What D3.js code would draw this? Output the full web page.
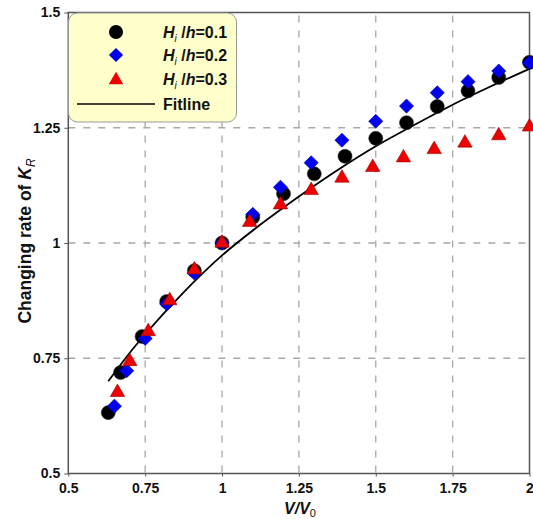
<!DOCTYPE html>
<html><head><meta charset="utf-8">
<script src="https://cdn.jsdelivr.net/npm/d3@7/dist/d3.min.js"></script>
<style>body{margin:0;background:#fff}text{font-family:"Liberation Sans",Arial,sans-serif;font-weight:bold}</style>
</head><body><svg id="c" width="533" height="519"></svg>
<script>
const xs1 = [0.63,0.67,0.74,0.82,0.91,1.0,1.1,1.2,1.3,1.4,1.5,1.6,1.7,1.8,1.9,2.0];
const ys1 = [0.632,0.719,0.797,0.873,0.940,1.0,1.056,1.107,1.150,1.188,1.227,1.261,1.296,1.330,1.359,1.392];
const xs2 = [0.65,0.69,0.75,0.82,0.91,1.0,1.1,1.19,1.29,1.39,1.5,1.6,1.7,1.8,1.9,2.0];
const ys2 = [0.646,0.723,0.793,0.868,0.935,1.0,1.062,1.121,1.174,1.223,1.264,1.297,1.326,1.350,1.373,1.391];
const xs3 = [0.66,0.70,0.76,0.83,0.91,1.0,1.09,1.19,1.29,1.39,1.49,1.59,1.69,1.79,1.9,2.0];
const ys3 = [0.676,0.743,0.808,0.875,0.942,1.0,1.045,1.083,1.114,1.141,1.164,1.185,1.203,1.217,1.233,1.252];
const fitX = [0.63,0.7,0.75,0.875,1.0,1.125,1.25,1.375,1.5,1.625,1.75,1.875,2.0];
const fitY = [0.700,0.762,0.802,0.893,0.973,1.040,1.101,1.158,1.210,1.256,1.300,1.340,1.378];
const xTicks = [0.5,0.75,1,1.25,1.5,1.75,2];
const yTicks = [0.5,0.75,1,1.25,1.5];
const xTickLabels = ["0.5","0.75","1","1.25","1.5","1.75","2"];
const yTickLabels = ["0.5","0.75","1","1.25","1.5"];
const legendLabels = ["0.1","0.2","0.3"];

const svg = d3.select("#c");
const L=68.3,R=529.5,T=12.5,B=473.5;
const x = d3.scaleLinear().domain([0.5,2]).range([L,R]);
const y = d3.scaleLinear().domain([0.5,1.5]).range([B,T]);

// grid
const g = svg.append("g");
g.selectAll("line.gx").data(xTicks.filter(v=>v>0.5&&v<2)).enter().append("line")
  .attr("x1",d=>x(d)).attr("x2",d=>x(d)).attr("y1",T+3).attr("y2",B)
  .attr("stroke","#a8a8a8").attr("stroke-width",1.3).attr("stroke-dasharray","7,8");
g.selectAll("line.gy").data(yTicks.filter(v=>v>0.5&&v<1.5)).enter().append("line")
  .attr("y1",d=>y(d)).attr("y2",d=>y(d)).attr("x1",L).attr("x2",R)
  .attr("stroke","#a8a8a8").attr("stroke-width",1.3).attr("stroke-dasharray","7,8");

// frame
svg.append("rect").attr("x",L).attr("y",T).attr("width",R-L).attr("height",B-T)
  .attr("fill","none").attr("stroke","#555").attr("stroke-width",1.5);

// axes
const xa = svg.append("g").attr("transform",`translate(0,${B})`)
  .call(d3.axisBottom(x).tickValues(xTicks).tickFormat((d,i)=>xTickLabels[i]).tickSize(3).tickPadding(7));
const ya = svg.append("g").attr("transform",`translate(${L},0)`)
  .call(d3.axisLeft(y).tickValues(yTicks).tickFormat((d,i)=>yTickLabels[i]).tickSize(4).tickPadding(4));
[xa,ya].forEach(a=>{a.select(".domain").remove();a.selectAll("line").attr("stroke","#555");
  a.selectAll("text").attr("font-size",14).attr("font-weight","bold").attr("fill","#111")
   .attr("font-family","'Liberation Sans',Arial,sans-serif");});

// fit line
svg.append("path").datum(fitX.map((v,i)=>[v,fitY[i]]))
  .attr("d",d3.line().x(d=>x(d[0])).y(d=>y(d[1])).curve(d3.curveMonotoneX))
  .attr("fill","none").attr("stroke","#000").attr("stroke-width",1.8);

const symCircle = d3.symbol().type(d3.symbolCircle).size(155);
const symDiamond = d3.symbol().type(d3.symbolSquare).size(100);
const symTri = d3.symbol().type(d3.symbolTriangle).size(90);

function drawSeries(xs,ys,sym,fill,rot,stroke){
  svg.append("g").selectAll("path").data(xs.map((v,i)=>[v,ys[i]])).enter().append("path")
    .attr("d",sym).attr("transform",d=>`translate(${x(d[0])},${y(d[1])}) rotate(${rot})`)
    .attr("fill",fill).attr("stroke",stroke).attr("stroke-width",0.6);
}
drawSeries(xs1,ys1,symCircle,"#000",0,"#333");
drawSeries(xs2,ys2,symDiamond,"#0000ee",45,"#0000aa");
drawSeries(xs3,ys3,symTri,"#ee0000",0,"#990000");

// legend
const lg = svg.append("g");
lg.append("rect").attr("x",68.5).attr("y",13).attr("width",168).attr("height",109).attr("rx",9)
  .attr("fill","#ffffcc").attr("stroke","#999").attr("stroke-width",1);
const rowsY=[32,55,79];
lg.append("path").attr("d",symCircle).attr("transform",`translate(116,${rowsY[0]})`).attr("fill","#000");
lg.append("path").attr("d",symDiamond).attr("transform",`translate(116,${rowsY[1]}) rotate(45)`).attr("fill","#0000ee");
lg.append("path").attr("d",symTri).attr("transform",`translate(116,${rowsY[2]+1})`).attr("fill","#ee0000");
legendLabels.forEach((lab,i)=>{
  const t = lg.append("text").attr("x",163).attr("y",rowsY[i]+6).attr("font-size",16).attr("fill","#111");
  t.append("tspan").attr("font-style","italic").text("H");
  t.append("tspan").attr("font-style","italic").attr("font-weight","normal").attr("font-size",10).attr("dy",4).text("i");
  t.append("tspan").attr("dy",-4).text(" /");
  t.append("tspan").attr("font-style","italic").text("h");
  t.append("tspan").text("="+lab);
});
lg.append("line").attr("x1",77).attr("x2",155).attr("y1",104).attr("y2",104).attr("stroke","#000").attr("stroke-width",1.6);
lg.append("text").attr("x",163).attr("y",110).attr("font-size",16).attr("fill","#111").text("Fitline");

// axis titles
const xt = svg.append("text").attr("x",300).attr("y",514).attr("text-anchor","middle").attr("font-size",16).attr("fill","#111");
xt.append("tspan").attr("font-style","italic").text("V/V");
xt.append("tspan").attr("font-weight","normal").attr("font-size",11).attr("dy",3).text("0");

const yt = svg.append("text").attr("transform","translate(31,241) rotate(-90)").attr("text-anchor","middle").attr("font-size",17.5).attr("fill","#111");
yt.append("tspan").text("Changing rate of ");
yt.append("tspan").attr("font-style","italic").text("K");
yt.append("tspan").attr("font-style","italic").attr("font-weight","normal").attr("font-size",12).attr("dy",4).text("R");
</script></body></html>
